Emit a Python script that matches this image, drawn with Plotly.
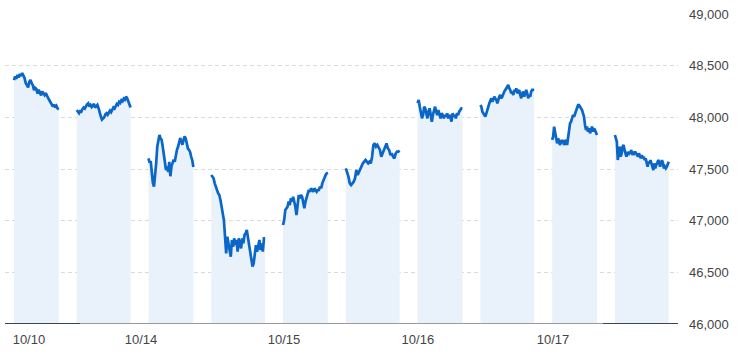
import plotly.graph_objects as go

# ---- data: index level per session (sampled evenly through each session) ----
day_labels = ["10/10", "10/14", "10/15", "10/16", "10/17"]

d1_am = [48360, 48395, 48372, 48410, 48385, 48420, 48400, 48428, 48405, 48378, 48330, 48300, 48290,
         48345, 48362, 48330, 48310, 48262, 48285, 48275, 48230, 48268, 48245, 48212, 48250, 48225,
         48215, 48235, 48200, 48185, 48165, 48140, 48120, 48105, 48125, 48095, 48110, 48085, 48078]
d1_pm = [48071, 48050, 48040, 48060, 48055, 48080, 48095, 48085, 48110, 48125, 48135, 48105, 48120,
         48100, 48115, 48130, 48095, 48110, 48120, 48090, 48060, 48010, 47978, 47985, 48000, 48030,
         48040, 48025, 48055, 48065, 48050, 48080, 48095, 48085, 48110, 48130, 48120, 48150, 48140,
         48165, 48155, 48180, 48170, 48200, 48185, 48160, 48120, 48095]
d2_am = [47603, 47560, 47575, 47460, 47365, 47330, 47425, 47555, 47715, 47780, 47830, 47795, 47782,
         47715, 47650, 47570, 47490, 47525, 47470, 47570, 47430, 47525, 47555, 47590, 47570, 47650,
         47685, 47715, 47750, 47800, 47765, 47735, 47780, 47815, 47795, 47735, 47700, 47685, 47665,
         47620, 47585, 47520]
d2_pm = [47442, 47426, 47410, 47361, 47313, 47297, 47264, 47248, 47200, 47135, 47039, 47006, 46845,
         46684, 46845, 46780, 46716, 46651, 46813, 46748, 46829, 46764, 46813, 46700, 46829, 46780,
         46732, 46829, 46780, 46861, 46877, 46910, 46845, 46780, 46684, 46619, 46555, 46587, 46716,
         46764, 46700, 46748, 46813, 46716, 46780, 46700, 46829, 46829]
d3_am = [46958, 47006, 47103, 47119, 47135, 47184, 47152, 47216, 47184, 47232, 47184, 47135, 47055,
         47184, 47248, 47216, 47248, 47232, 47184, 47119, 47184, 47232, 47264, 47297, 47280, 47313,
         47297, 47280, 47313, 47297, 47280, 47297, 47297, 47329, 47313, 47361, 47393, 47426, 47442,
         47458, 47464]
d3_pm = [47506, 47474, 47426, 47361, 47345, 47361, 47377, 47410, 47490, 47442, 47474, 47506, 47522,
         47555, 47571, 47587, 47571, 47555, 47571, 47555, 47619, 47732, 47748, 47716, 47732, 47700,
         47684, 47619, 47652, 47700, 47732, 47748, 47700, 47684, 47635, 47652, 47619, 47603, 47652,
         47668, 47668, 47677]
d4_am = [48136, 48168, 48103, 48055, 47990, 48023, 48103, 48087, 48039, 47990, 48055, 48087, 48023,
         47958, 48023, 48055, 48103, 48055, 48023, 48071, 48039, 47990, 48039, 48023, 47990, 48023,
         48007, 48039, 47990, 48023, 48007, 47958, 48039, 48007, 48023, 47990, 48039, 48023, 48055,
         48071, 48087, 48087]
d4_pm = [48119, 48103, 48055, 48039, 48023, 48007, 48039, 48087, 48103, 48136, 48168, 48184, 48152,
         48184, 48200, 48184, 48168, 48136, 48184, 48200, 48216, 48184, 48200, 48232, 48249, 48265,
         48281, 48297, 48313, 48281, 48265, 48232, 48249, 48216, 48265, 48249, 48281, 48232, 48249,
         48265, 48216, 48184, 48232, 48249, 48200, 48232, 48265, 48232, 48184, 48216, 48200, 48249,
         48265, 48265, 48265]
d5_am = [47781, 47813, 47910, 47861, 47781, 47748, 47797, 47764, 47732, 47781, 47748, 47781, 47732,
         47764, 47781, 47732, 47813, 47877, 47942, 47958, 47990, 48023, 48006, 48039, 48071, 48103,
         48119, 48119, 48103, 48087, 48071, 48039, 48006, 47926, 47877, 47910, 47861, 47894, 47845,
         47877, 47910, 47861, 47894, 47877, 47845, 47829]
d5_pm = [47829, 47797, 47764, 47587, 47652, 47716, 47619, 47652, 47716, 47732, 47684, 47652, 47619,
         47668, 47635, 47668, 47652, 47684, 47635, 47668, 47652, 47668, 47652, 47635, 47619, 47652,
         47619, 47603, 47635, 47603, 47619, 47587, 47603, 47571, 47522, 47571, 47555, 47587, 47555,
         47522, 47490, 47555, 47506, 47539, 47555, 47587, 47571, 47522, 47571, 47587, 47555, 47506,
         47522, 47506, 47522, 47555, 47571]

sessions = [d1_am, d1_pm, d2_am, d2_pm, d3_am, d3_pm, d4_am, d4_pm, d5_am, d5_pm]

# trading-time axis (minutes since first open; lunch and overnight compressed to 60 min)
AM_LEN, LUNCH, PM_LEN, NIGHT = 150, 60, 180, 60
DAY = AM_LEN + LUNCH + PM_LEN + NIGHT
label_offsets = [50, -25, 3, 1, 3]

LINE = "#0a66c8"
FILL = "rgba(233,242,251,1)"
FONT = "Arial, Liberation Sans, sans-serif"

fig = go.Figure()
for i, vals in enumerate(sessions):
    day, pm = divmod(i, 2)
    start = day * DAY + (AM_LEN + LUNCH if pm else 0)
    length = PM_LEN if pm else AM_LEN
    n = len(vals)
    xs = [start + length * k / (n - 1) for k in range(n)]
    fig.add_trace(go.Scatter(x=xs, y=vals, mode="lines", fill="tozeroy", fillcolor=FILL,
                             line=dict(color=LINE, width=2.7), hoverinfo="skip", showlegend=False))

tickvals = [d * DAY + off for d, off in enumerate(label_offsets)]

fig.update_layout(
    width=738, height=356,
    margin=dict(l=5, r=60, t=14, b=32),
    paper_bgcolor="white", plot_bgcolor="white",
    font=dict(family=FONT, size=13, color="#444"),
    xaxis=dict(range=[-30, 2221], tickvals=tickvals, ticktext=day_labels, showgrid=False,
               zeroline=False, showline=False, ticks="", ticklabelstandoff=6, fixedrange=True),
    yaxis=dict(range=[46000, 49000], dtick=500, tickformat=",", side="right",
               showgrid=True, gridcolor="#dadada", griddash="4px,3px", gridwidth=1,
               zeroline=False, showline=False, ticks="", ticklabelstandoff=10),
    shapes=[
        dict(type="line", xref="paper", yref="y", x0=0, x1=1, y0=46000, y1=46000,
             line=dict(color="#9a9a9a", width=2)),
        dict(type="line", xref="paper", yref="y", x0=0, x1=0.1114, y0=46000, y1=46000,
             line=dict(color="#3c4650", width=2)),
        dict(type="line", xref="paper", yref="y", x0=0.8886, x1=1, y0=46000, y1=46000,
             line=dict(color="#3c4650", width=2)),
    ],
)

fig.write_html("out.html")
